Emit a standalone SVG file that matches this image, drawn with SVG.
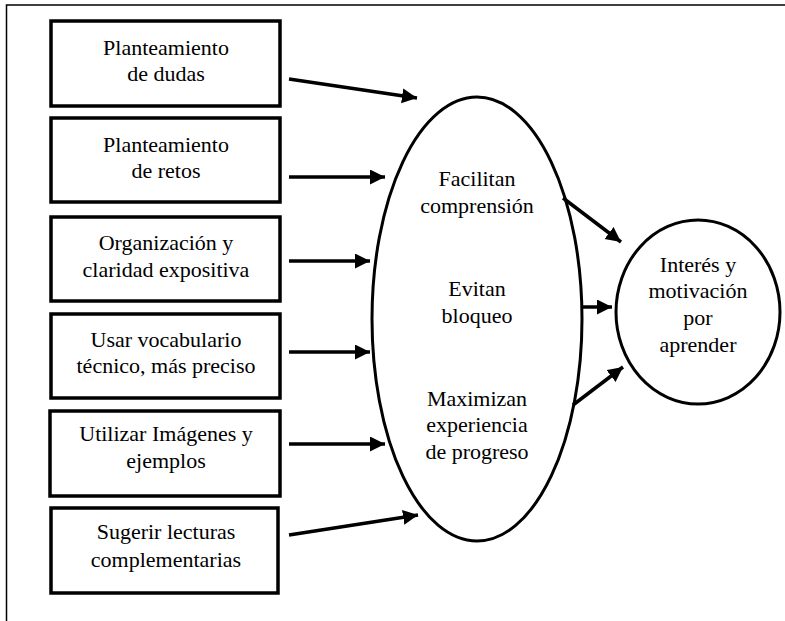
<svg xmlns="http://www.w3.org/2000/svg" width="785" height="621" viewBox="0 0 785 621">
<defs>
<style>
.box{fill:#fff;stroke:#000;stroke-width:3.5}
.shape{fill:#fff;stroke:#000;stroke-width:3}
.frame{fill:none;stroke:#000;stroke-width:1.5}
.c{fill:none;stroke:#000;stroke-width:3.5;marker-end:url(#ah)}
</style>
<marker id="ah" markerUnits="userSpaceOnUse" markerWidth="16" markerHeight="16" refX="15" refY="7.5" orient="auto">
<path d="M0,0 L15,7.5 L0,15 z" fill="#000"/>
</marker>
</defs>
<rect width="785" height="621" fill="#fff"/>
<path class="frame" d="M785,5 H6.5 V621"/>
<g font-family="'Liberation Serif', 'Times New Roman', serif" font-size="22" text-anchor="middle" fill="#000">
<g id="n1"><rect class="box" x="51" y="21" width="229" height="85"/><text x="166" y="55">Planteamiento</text><text x="166" y="81">de dudas</text></g>
<g id="n2"><rect class="box" x="51" y="118" width="229" height="84"/><text x="166" y="152">Planteamiento</text><text x="166" y="178">de retos</text></g>
<g id="n3"><rect class="box" x="51" y="217" width="229" height="84"/><text x="166" y="250">Organización y</text><text x="166" y="277">claridad expositiva</text></g>
<g id="n4"><rect class="box" x="51" y="314" width="229" height="84"/><text x="166" y="347">Usar vocabulario</text><text x="166" y="373">técnico, más preciso</text></g>
<g id="n5"><rect class="box" x="50" y="411" width="230" height="85"/><text x="166" y="441">Utilizar Imágenes y</text><text x="166" y="468">ejemplos</text></g>
<g id="n6"><rect class="box" x="51" y="508" width="227" height="85"/><text x="166" y="539">Sugerir lecturas</text><text x="166" y="567">complementarias</text></g>
<g id="center"><ellipse class="shape" cx="477" cy="319" rx="105" ry="222"/>
<text x="477" y="186">Facilitan</text><text x="477" y="213">comprensión</text>
<text x="477" y="296">Evitan</text><text x="477" y="323">bloqueo</text>
<text x="477" y="406">Maximizan</text><text x="477" y="432">experiencia</text><text x="477" y="459">de progreso</text></g>
<g id="goal"><ellipse class="shape" cx="698" cy="312" rx="82" ry="92"/>
<text x="698" y="272">Interés y</text><text x="698" y="298">motivación</text><text x="698" y="325">por</text><text x="698" y="352">aprender</text></g>
</g>
<g id="connectors">
<line class="c" x1="289" y1="79" x2="417" y2="98"/>
<line class="c" x1="289" y1="177" x2="385" y2="177"/>
<line class="c" x1="289" y1="261" x2="370" y2="261"/>
<line class="c" x1="289" y1="352" x2="370" y2="352"/>
<line class="c" x1="289" y1="444" x2="385" y2="444"/>
<line class="c" x1="289" y1="535" x2="418" y2="515"/>
<line class="c" x1="563" y1="198" x2="621" y2="242"/>
<line class="c" x1="582" y1="307" x2="612" y2="307"/>
<line class="c" x1="573" y1="405" x2="623" y2="367"/>
</g>
</svg>
